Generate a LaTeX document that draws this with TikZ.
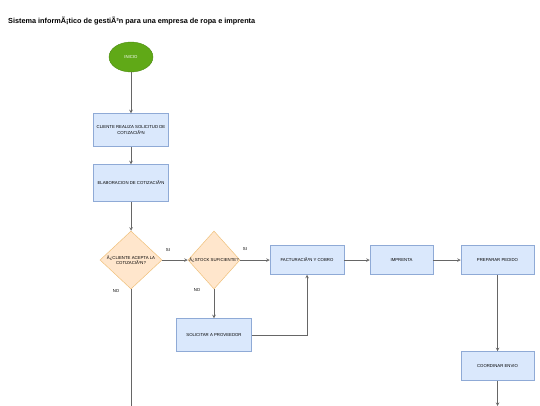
\documentclass[tikz,border=0pt]{standalone}
\usepackage{fontspec}
\setmainfont{Liberation Sans}
\usetikzlibrary{shapes.geometric,arrows}
\definecolor{boxfill}{HTML}{DAE8FC}
\definecolor{boxline}{HTML}{8FAAD6}
\definecolor{decfill}{HTML}{FFE6CC}
\definecolor{decline}{HTML}{EFC07A}
\definecolor{startfill}{HTML}{60A917}
\definecolor{startline}{HTML}{4C8A12}
\definecolor{flow}{HTML}{666666}

\begin{document}
\begin{tikzpicture}[x=1pt, y=-1pt,
  proc/.style={draw=boxline, fill=boxfill, line width=0.5pt, align=center, inner sep=0pt, font=\fontsize{4.3}{5.4}\selectfont},
  dec/.style={draw=decline, fill=decfill, line width=0.5pt, diamond, inner sep=0pt},
  dectext/.style={align=center, inner sep=0pt, font=\fontsize{4.3}{5.4}\selectfont},
  lbl/.style={inner sep=0pt, font=\fontsize{4.3}{5.4}\selectfont},
  flowline/.style={draw=flow, line width=0.6pt, -stealth}]
  \useasboundingbox (0,0) rectangle (540,405);
  \node[anchor=west, inner sep=0pt, font=\fontsize{7.3}{9}\selectfont\bfseries] (title) at (8,21) {Sistema informÃ¡tico de gestiÃ³n para una empresa de ropa e imprenta};
  \node[ellipse, draw=startline, fill=startfill, minimum width=44, minimum height=30, inner sep=0pt, text=white, font=\fontsize{4.3}{5.4}\selectfont] (0) at (131,57) {INICIO};
  \node[proc, minimum width=75, minimum height=33] (1) at (131,130) {CLIENTE REALIZA SOLICITUD DE\\COTIZACIÃ³N};
  \node[proc, minimum width=75, minimum height=37] (2) at (131,183) {ELABORACION DE COTIZACIÃ³N};
  \node[dec, minimum width=62, minimum height=58] (3) at (131,260) {};
  \node[dectext] (3t) at (3) {Â¿CLIENTE ACEPTA LA\\COTIZACIÃ³N?};
  \node[dec, minimum width=52, minimum height=58] (4) at (214,260) {};
  \node[dectext] (4t) at (4) {Â¿STOCK SUFICIENTE?};
  \node[proc, minimum width=74, minimum height=29] (5) at (307,260) {FACTURACIÃ³N Y COBRO};
  \node[proc, minimum width=63, minimum height=29] (6) at (401.5,260) {IMPRENTA};
  \node[proc, minimum width=73, minimum height=29] (7) at (497.5,260) {PREPARAR PEDIDO};
  \node[proc, minimum width=73, minimum height=29] (8) at (497.5,366) {COORDINAR ENVIO};
  \node[proc, minimum width=75, minimum height=33] (9) at (214,335) {SOLICITAR A PROVEEDOR};
  \node[lbl] (10) at (168,250) {SI};
  \node[lbl] (11) at (116,291) {NO};
  \node[lbl] (12) at (245,249) {SI};
  \node[lbl] (13) at (197,290) {NO};
  \coordinate (14) at (131,412);
  \coordinate (15) at (497.5,406);
  \draw[flowline] (0)--(1);
  \draw[flowline] (1)--(2);
  \draw[flowline] (2)--(3);
  \draw[flowline] (3)--(4);
  \draw[flowline] (4)--(5);
  \draw[flowline] (5)--(6);
  \draw[flowline] (6)--(7);
  \draw[flowline] (7)--(8);
  \draw[flowline] (8)--(15);
  \draw[flowline] (3)--(14);
  \draw[flowline] (4)--(9);
  \draw[flowline] (9) -| (5);
\end{tikzpicture}
\end{document}
